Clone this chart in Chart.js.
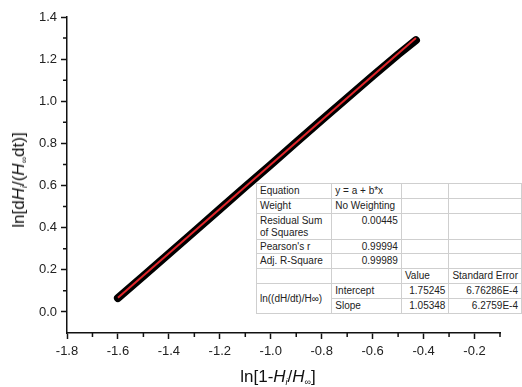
<!DOCTYPE html>
<html>
<head>
<meta charset="utf-8">
<script src="https://cdn.jsdelivr.net/npm/chart.js@4.4.1/dist/chart.umd.min.js"></script>
<style>
  body { margin: 0; background: #fff; }
  #wrap { position: relative; width: 522px; height: 387px; font-family: "Liberation Sans", Arial, sans-serif; }
  .ttl { position: absolute; font-size: 17px; color: #111; white-space: nowrap; }
  .ttl sub { font-size: 9px; vertical-align: -3px; line-height: 0; }
  #xTitle { left: 278px; top: 377px; transform: translate(-50%, -50%); }
  #yTitle { left: 19px; top: 180px; transform: translate(-50%, -50%) rotate(-90deg); }
  #fitTable { position: absolute; left: 256px; top: 183px; border-collapse: collapse; table-layout: fixed;
              background: #fff; font-size: 10px; color: #222; border: 1px solid #8a8a8a; }
  #fitTable td { border: 1px solid #cfcfcf; padding: 1px 3px 0 3px; line-height: 12px; vertical-align: top;
                 overflow: hidden; white-space: nowrap; }
  #fitTable td.num { text-align: right; }
  #fitTable td.mid { vertical-align: middle; }
</style>
</head>
<body>
<div id="wrap">
  <canvas id="fitChart" width="522" height="387"></canvas>
  <div class="ttl" id="xTitle">ln[1-<i>H</i><sub><i>i</i></sub>/<i>H</i><sub>∞</sub>]</div>
  <div class="ttl" id="yTitle">ln[d<i>H</i><sub><i>i</i></sub>/(<i>H</i><sub>∞</sub>dt)]</div>
  <table id="fitTable">
    <colgroup><col style="width:76px"><col style="width:70px"><col style="width:48px"><col style="width:72px"></colgroup>
    <tr style="height:15px"><td>Equation</td><td>y = a + b*x</td><td></td><td></td></tr>
    <tr style="height:15px"><td>Weight</td><td>No Weighting</td><td></td><td></td></tr>
    <tr style="height:26px"><td style="white-space:normal">Residual Sum of Squares</td><td class="num">0.00445</td><td></td><td></td></tr>
    <tr style="height:14px"><td>Pearson's r</td><td class="num">0.99994</td><td></td><td></td></tr>
    <tr style="height:15px"><td>Adj. R-Square</td><td class="num">0.99989</td><td></td><td></td></tr>
    <tr style="height:15px"><td></td><td></td><td>Value</td><td>Standard Error</td></tr>
    <tr style="height:15px"><td rowspan="2" class="mid">ln((dH/dt)/H∞)</td><td>Intercept</td><td class="num">1.75245</td><td class="num">6.76286E-4</td></tr>
    <tr style="height:15px"><td>Slope</td><td class="num">1.05348</td><td class="num">6.2759E-4</td></tr>
  </table>
</div>
<script>
const dataX = [-1.60, -1.50, -1.40, -1.30, -1.20, -1.10, -1.00, -0.90, -0.80, -0.70, -0.60, -0.50, -0.43];
const dataY = [0.066, 0.171, 0.276, 0.382, 0.488, 0.594, 0.699, 0.805, 0.911, 1.016, 1.120, 1.222, 1.290];

// linear fit line end points
const fitX = [-1.60, -0.43];
const fitY = [0.067, 1.300];

// axis ticks
const xMajor = [-1.8, -1.6, -1.4, -1.2, -1.0, -0.8, -0.6, -0.4, -0.2];
const xMinor = [-1.7, -1.5, -1.3, -1.1, -0.9, -0.7, -0.5, -0.3, -0.1];
const yMajor = [0.0, 0.2, 0.4, 0.6, 0.8, 1.0, 1.2, 1.4];
const yMinor = [0.1, 0.3, 0.5, 0.7, 0.9, 1.1, 1.3];

const toPoints = (xs, ys) => xs.map((x, i) => ({x: x, y: ys[i]}));

// short minor ticks, placed with the chart's own scales
const minorTicks = {
  id: 'minorTicks',
  afterDraw(chart) {
    const ctx = chart.ctx, xs = chart.scales.x, ys = chart.scales.y;
    const bottom = chart.chartArea.bottom, left = chart.chartArea.left;
    ctx.save();
    ctx.strokeStyle = '#111';
    ctx.lineWidth = 1.5;
    ctx.beginPath();
    xMinor.forEach(v => {
      const px = xs.getPixelForValue(v);
      ctx.moveTo(px, bottom); ctx.lineTo(px, bottom + 4);
    });
    yMinor.forEach(v => {
      const py = ys.getPixelForValue(v);
      ctx.moveTo(left, py); ctx.lineTo(left - 4, py);
    });
    ctx.stroke();
    ctx.restore();
  }
};

const tickFont = {family: '"Liberation Sans", Arial, sans-serif', size: 13};

new Chart("fitChart", {
  type: "scatter",
  data: {
    datasets: [{
        data: toPoints(fitX, fitY),
        showLine: true,
        borderColor: "#e0262b",
        borderWidth: 2,
        pointRadius: 0,
        fill: false,
        order: 0
    }, {
        data: toPoints(dataX, dataY),
        showLine: true,
        borderColor: "#000",
        borderWidth: 8,
        borderCapStyle: 'round',
        borderJoinStyle: 'round',
        pointRadius: 0,
        fill: false,
        order: 1
    }]
  },
  options: {
    responsive: false,
    animation: false,
    layout: {padding: {top: 17, right: 22, left: 0, bottom: 0}},
    plugins: {legend: {display: false}, tooltip: {enabled: false}},
    scales: {
      x: {
        type: 'linear',
        min: -1.8, max: -0.1,
        afterBuildTicks: s => { s.ticks = xMajor.map(v => ({value: v})); },
        afterFit: s => { s.height = 54; },
        border: {display: true, color: '#111', width: 1.5},
        grid: {drawOnChartArea: false, drawTicks: true, tickLength: 6, tickColor: '#111', tickWidth: 1.5},
        ticks: {color: '#222', font: tickFont, padding: 5, maxRotation: 0,
                callback: v => v.toFixed(1)}
      },
      y: {
        type: 'linear',
        min: -0.1, max: 1.4,
        afterBuildTicks: s => { s.ticks = yMajor.map(v => ({value: v})); },
        afterFit: s => { s.width = 67; },
        border: {display: true, color: '#111', width: 1.5},
        grid: {drawOnChartArea: false, drawTicks: true, tickLength: 6, tickColor: '#111', tickWidth: 1.5},
        ticks: {color: '#222', font: tickFont, padding: 4,
                callback: v => v.toFixed(1)}
      }
    }
  },
  plugins: [minorTicks]
});
</script>
</body>
</html>
